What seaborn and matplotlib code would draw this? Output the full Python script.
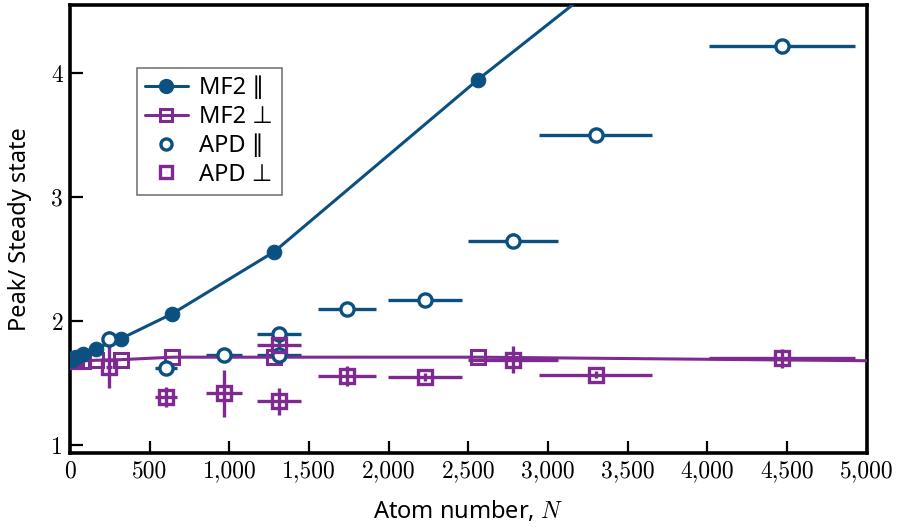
import numpy as np
import pandas as pd
import matplotlib
matplotlib.use("Agg")
import matplotlib.pyplot as plt
import seaborn as sns
from matplotlib.lines import Line2D
from matplotlib.ticker import FuncFormatter

# mean-field (MF2) curves
mf2_n = [10, 20, 40, 80, 160, 320, 640, 1280, 2560, 5120]
mf2_par = [1.69, 1.70, 1.715, 1.735, 1.78, 1.86, 2.06, 2.56, 3.95, 6.55]
mf2_perp = [1.68, 1.68, 1.68, 1.68, 1.685, 1.69, 1.71, 1.71, 1.71, 1.68]

# APD data, parallel
apd_par_n = [245, 602, 966, 1311, 1311, 1738, 2227, 2779, 3300, 4467]
apd_par_y = [1.855, 1.62, 1.725, 1.895, 1.725, 2.10, 2.17, 2.65, 3.50, 4.22]
apd_par_xerr = [20, 72, 110, 141, 141, 182, 232, 282, 355, 458]
apd_par_yerr = [0.07, 0.02, 0.02, 0.02, 0.02, 0.02, 0.02, 0.06, 0.02, 0.02]

# APD data, perpendicular
apd_perp_n = [245, 602, 966, 1311, 1311, 1738, 2227, 2779, 3300, 4467]
apd_perp_y = [1.63, 1.39, 1.42, 1.355, 1.81, 1.56, 1.55, 1.69, 1.57, 1.70]
apd_perp_xerr = [20, 72, 110, 141, 141, 182, 232, 282, 355, 458]
apd_perp_yerr = [0.17, 0.08, 0.19, 0.11, 0.03, 0.08, 0.03, 0.11, 0.03, 0.08]

blue = "#0a5080"
purple = "#7e2a90"

sns.set_style("ticks")
plt.rcParams["font.family"] = ["Noto Sans", "DejaVu Sans"]
plt.rcParams["mathtext.fontset"] = "cm"
plt.rcParams["text.color"] = "black"
plt.rcParams["axes.labelcolor"] = "black"

fig = plt.figure(figsize=(8.99, 5.27), dpi=100)
ax = fig.add_axes([0.078, 0.140, 0.886, 0.850])

mf2 = pd.DataFrame({"N": mf2_n, "par": mf2_par, "perp": mf2_perp})

# APD error bars
ax.errorbar(apd_par_n, apd_par_y, xerr=apd_par_xerr, yerr=apd_par_yerr,
            fmt="none", ecolor=blue, elinewidth=2.4, capsize=0, zorder=2)
ax.errorbar(apd_perp_n, apd_perp_y, xerr=apd_perp_xerr, yerr=apd_perp_yerr,
            fmt="none", ecolor=purple, elinewidth=2.4, capsize=0, zorder=2)

sns.lineplot(data=mf2, x="N", y="perp", ax=ax, color=purple, lw=2.2,
             marker="s", markersize=10.5, markerfacecolor="none",
             markeredgecolor=purple, markeredgewidth=2.2, zorder=3)
sns.lineplot(data=mf2, x="N", y="par", ax=ax, color=blue, lw=2.2,
             marker="o", markersize=10.5, markeredgecolor=blue, zorder=4)

ax.plot(apd_par_n, apd_par_y, "o", ms=9.5, mfc="white", mec=blue, mew=2.4, zorder=5)
ax.plot(apd_perp_n, apd_perp_y, "s", ms=10.5, mfc="none", mec=purple, mew=2.4, zorder=5)

ax.set_xlim(0, 5000)
ax.set_ylim(0.935, 4.55)
ax.set_xticks(np.arange(0, 5001, 500))
ax.set_yticks([1, 2, 3, 4])
ax.xaxis.set_major_formatter(FuncFormatter(lambda v, p: f"{int(v):,}"))
ax.tick_params(direction="in", length=9, width=1.6, labelsize=17, pad=5,
               colors="black")
for lab in ax.get_xticklabels() + ax.get_yticklabels():
    lab.set_fontfamily("cmr10")
for s in ax.spines.values():
    s.set_linewidth(2.6)
    s.set_color("black")

ax.set_xlabel("Atom number, $N$", fontsize=17, labelpad=12)
ax.set_ylabel("Peak/ Steady state", fontsize=17, labelpad=14)

handles = [
    Line2D([], [], color=blue, lw=2.2, marker="o", ms=10, mec=blue),
    Line2D([], [], color=purple, lw=2.2, marker="s", ms=9, mfc="none", mec=purple, mew=2.2),
    Line2D([], [], ls="none", color=blue, marker="o", ms=8, mfc="white", mec=blue, mew=2.4),
    Line2D([], [], ls="none", color=purple, marker="s", ms=9, mfc="none", mec=purple, mew=2.4),
]
labels = ["MF2 \u2225", "MF2 \u22a5", "APD \u2225", "APD \u22a5"]
leg = ax.legend(handles, labels, loc="upper left", bbox_to_anchor=(0.069, 0.886),
                fontsize=17, frameon=True, fancybox=False, handlelength=1.8,
                handletextpad=0.5, borderpad=0.35, labelspacing=0.2)
leg.get_frame().set_edgecolor("#555555")
leg.get_frame().set_linewidth(1.2)

fig.savefig("out.png", dpi=100)
